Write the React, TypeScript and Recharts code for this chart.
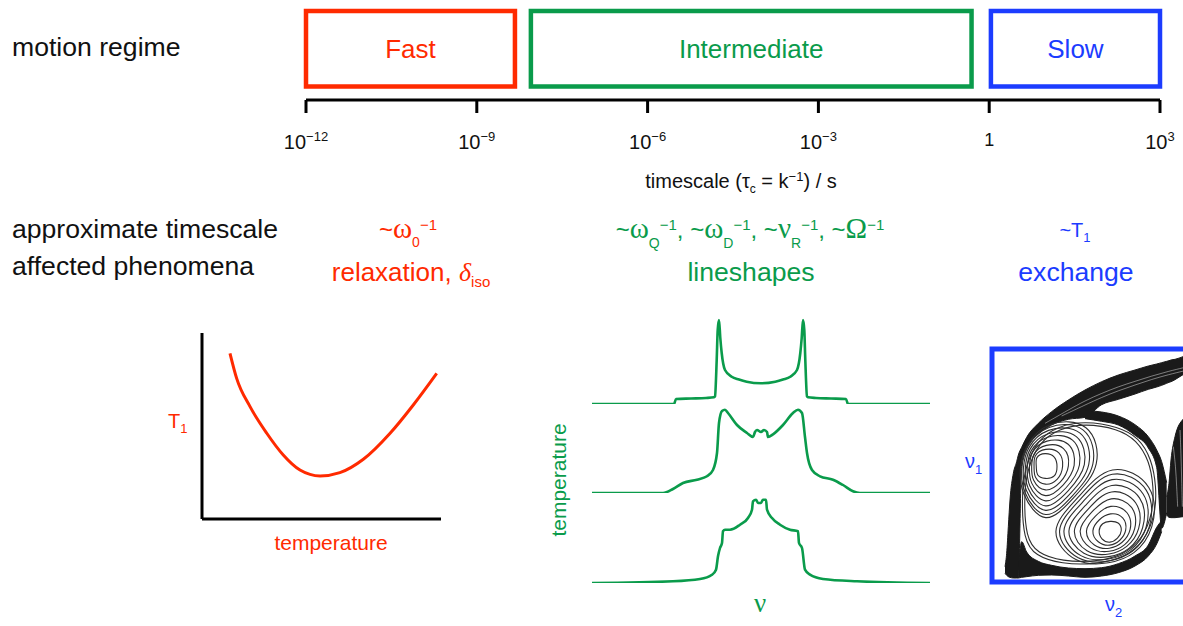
import React from 'react';
import { ComposedChart, LineChart, Line, Area, XAxis, YAxis, ReferenceArea } from 'recharts';

const RED = '#ff2a00';
const GREEN = '#0a9b4b';
const BLUE = '#1c3cff';
const INK = '#111111';
const DARK = '#1a1a1a';
const SANS = '"Liberation Sans", Arial, Helvetica, sans-serif';
const SERIF = '"Liberation Serif", "Times New Roman", Times, serif';

// ---------- timescale axis (log10 of seconds) ----------
const decadeExponents = [-12, -9, -6, -3, 0, 3];
const regimeNames = ['Fast', 'Intermediate', 'Slow'];
const regimeFromExp = [-12, -8.05, 0.03];
const regimeToExp = [-8.33, -0.31, 3];
const regimeColors = [RED, GREEN, BLUE];
const BOX_Y1 = 13.5;
const BOX_Y2 = 89;

// ---------- T1 vs temperature ----------
const t1Temperature = [11.7, 14.5, 20.1, 27.1, 34.0, 41.0, 49.4, 57.7, 67.5, 78.7, 88.4, 98.2];
const t1Values = [89.1, 75.6, 60.4, 46.1, 34.4, 26.3, 23.1, 24.9, 32.1, 46.1, 61.3, 78.3];

// ---------- lineshapes (frequency offset, intensity) ----------
const highTNu = [-169, -87, -85, -70, -55, -47, -46, -44.3, -43.3, -42, -40.7, -39.3, -36, -29.3, -22, -14.3, 0, 14.3, 22, 29.3, 36, 39.3, 40.7, 42, 43.3, 44.3, 46, 47, 55, 70, 85, 87, 169];
const highTI = [0, 0, 5, 5.5, 6, 6.7, 7.6, 44, 74, 84, 66, 51, 34, 27.3, 24.5, 22.3, 20.7, 22.3, 24.5, 27.3, 34, 51, 66, 84, 74, 44, 7.6, 6.7, 6, 5.5, 5, 0, 0];
const midTNu = [-169, -98, -88, -78, -64, -54, -48, -44, -42, -39, -36, -33, -24, -14, -8, -6, -4, 0, 3, 6, 7, 12, 22, 32, 37, 41, 44, 46, 51, 59, 72, 82, 92, 99, 169];
const midTI = [0, 0, 4, 10, 13.3, 16.7, 23, 40, 70, 82, 83.3, 80, 68, 60, 56, 61, 63, 61, 63, 61, 56, 58.7, 68, 80, 83.3, 80, 56, 40, 23, 16.7, 13.3, 8, 1.7, 0, 0];
const lowTNu = [-169, -88, -61, -49, -45, -43, -41, -39, -38, -36, -31, -21, -13, -9, -8, -5, -3, 0, 2, 5, 6, 11, 19, 29, 37, 38, 41, 44, 49, 62, 96, 169];
const lowTI = [0, 1.7, 4, 8.3, 13.3, 26.7, 35, 40, 51.7, 53.3, 53.3, 58.3, 65, 73.3, 81.7, 83.3, 80, 80, 83.3, 83.3, 73.3, 65, 58.3, 53.3, 51.7, 40, 35, 13.3, 8.3, 4, 1.7, 0];

// ---------- 2D exchange map (nu2, nu1 channels) ----------
const bandNu2 = [60, 65, 70, 75, 85, 95, 100, 110, 125, 160, 200, 250, 300, 350, 400, 450, 490, 515, 530, 545, 552, 558, 570, 594, 600];
const streakLo = [680, 640, 560, 480, 400, 365, 345, 322, 292, 250, 215, 180, 150, 125, 105, 90, 78, 72, 68, 64, 62, 60, 58, 50, 48];
const streakHi = [700, 706, 710, 712, 714, 714, 714, 372, 325, 282, 255, 238, 232, 194, 178, 162, 148, 141, 136, 130, 127, 125, 119, 104, 101];
const ringLo = [null, null, null, null, null, null, null, null, null, null, null, null, 212, 216, 228, 254, 290, 330, 365, 428, null, null, null, null, null];
const ringHi = [null, null, null, null, null, null, null, null, null, null, null, null, 236, 244, 255, 286, 324, 382, 565, 518, null, null, null, null, null];
const bottomLo = [null, null, null, null, null, null, 690, 605, 636, 664, 676, 684, 686, 683, 671, 648, 615, 562, 542, null, null, null, null, null, null];
const bottomHi = [null, null, null, null, null, null, 714, 712, 710, 706, 705, 708, 712, 708, 698, 678, 648, 612, 575, null, null, null, null, null, null];
const sideLo = [null, null, null, null, null, null, null, null, null, null, null, null, null, null, null, null, null, null, null, 470, 430, 360, 290, 238, 232];
const sideHi = [null, null, null, null, null, null, null, null, null, null, null, null, null, null, null, null, null, null, null, 525, 532, 533, 533, 530, 530];

const upperLobeContours = [
  [[180, 337], [212, 348], [218, 380], [212, 412], [180, 418], [153, 407], [155, 380], [150, 350]],
  [[180, 323], [228, 332], [237, 380], [221, 421], [180, 440], [146, 414], [148, 380], [145, 345]],
  [[180, 310], [244, 316], [257, 380], [229, 429], [180, 462], [139, 421], [140, 380], [141, 341]],
  [[180, 296], [260, 300], [277, 380], [237, 437], [180, 484], [132, 428], [133, 380], [136, 336]],
  [[180, 283], [275, 285], [295, 380], [245, 445], [180, 504], [125, 435], [126, 380], [132, 332]],
  [[180, 272], [288, 272], [312, 380], [252, 452], [180, 523], [119, 441], [120, 380], [128, 328]],
  [[180, 261], [301, 259], [327, 380], [259, 459], [180, 540], [113, 447], [114, 380], [124, 324]],
  [[180, 251], [312, 248], [341, 380], [265, 465], [180, 556], [108, 452], [109, 380], [121, 321]],
  [[180, 243], [321, 239], [353, 380], [269, 469], [180, 568], [104, 456], [104, 380], [119, 319]],
];
const lowerLobeContours = [
  [[375, 543], [402, 545], [413, 572], [399, 596], [375, 611], [348, 599], [339, 572], [351, 548]],
  [[375, 516], [419, 528], [427, 572], [406, 603], [375, 620], [337, 610], [316, 572], [341, 538]],
  [[375, 489], [435, 512], [441, 572], [413, 610], [375, 629], [325, 622], [293, 572], [330, 527]],
  [[375, 462], [452, 495], [455, 572], [421, 618], [375, 638], [314, 633], [270, 572], [319, 516]],
  [[375, 437], [467, 480], [468, 572], [427, 624], [375, 646], [303, 644], [249, 572], [310, 507]],
  [[375, 414], [482, 465], [480, 572], [434, 631], [375, 654], [294, 653], [229, 572], [301, 498]],
  [[375, 393], [495, 452], [491, 572], [439, 636], [375, 661], [285, 662], [211, 572], [292, 489]],
  [[375, 374], [507, 440], [501, 572], [444, 641], [375, 667], [277, 670], [195, 572], [285, 482]],
  [[375, 358], [516, 431], [509, 572], [449, 646], [375, 672], [270, 677], [182, 572], [279, 476]],
];
const envelopeContours = [
  [[300, 243], [400, 260], [462, 293], [500, 358], [514, 440], [512, 520], [480, 602], [422, 652], [330, 674], [230, 672], [150, 648], [116, 598], [110, 480], [118, 385], [158, 298], [220, 258]],
  [[300, 250], [398, 266], [455, 300], [493, 362], [506, 440], [504, 518], [473, 596], [417, 645], [330, 666], [232, 664], [156, 640], [123, 592], [117, 480], [125, 390], [163, 306], [222, 266]],
];
const streakTexture = [
  [[230, 228], [300, 195], [350, 172], [400, 152], [450, 135], [500, 118], [550, 104], [600, 92]],
  [[180, 250], [250, 210], [300, 182], [350, 160], [400, 140], [450, 124], [500, 108], [550, 94], [600, 82]],
  [[565, 320], [572, 380], [575, 440], [578, 500]],
  [[585, 270], [588, 340], [590, 420], [592, 500]],
];

// ---------- derived rows ----------
const axisRows = decadeExponents.map((e) => ({ e }));
const t1Rows = t1Temperature.map((temp, i) => ({ temp, t1: t1Values[i] }));
const spectra = [
  { nu: highTNu, I: highTI, baseline: 404 },
  { nu: midTNu, I: midTI, baseline: 493 },
  { nu: lowTNu, I: lowTI, baseline: 583 },
];
const pair = (lo: (number | null)[], hi: (number | null)[], i: number) =>
  lo[i] == null || hi[i] == null ? undefined : [lo[i], hi[i]];
const bandRows = bandNu2.map((x, i) => ({
  x,
  streak: pair(streakLo, streakHi, i),
  ring: pair(ringLo, ringHi, i),
  bottom: pair(bottomLo, bottomHi, i),
  side: pair(sideLo, sideHi, i),
}));
const toPts = (loop: number[][]) => loop.map(([x, y]) => ({ x, y }));
const allContours = [...upperLobeContours, ...lowerLobeContours, ...envelopeContours];

function DecadeTick(props: any) {
  const { x, payload } = props;
  const e = payload.value as number;
  if (e === 0) {
    return (
      <text x={x} y={146} textAnchor="middle" fontSize={18} fill={INK}>1</text>
    );
  }
  return (
    <text x={x} y={149} textAnchor="middle" fontSize={20} fill={INK}>
      <tspan>10</tspan>
      <tspan fontSize={13} dy={-8}>{e < 0 ? `\u2212${-e}` : `${e}`}</tspan>
    </text>
  );
}

function TimescaleChart() {
  return (
    <ComposedChart width={1183} height={160} data={axisRows} margin={{ top: 0, right: 23, bottom: 0, left: 306 }}>
      <XAxis
        type="number"
        dataKey="e"
        domain={[-12, 3]}
        ticks={decadeExponents}
        interval={0}
        allowDataOverflow
        tickSize={13}
        height={60}
        axisLine={{ stroke: '#000', strokeWidth: 3 }}
        tickLine={{ stroke: '#000', strokeWidth: 3 }}
        tick={<DecadeTick />}
      />
      <YAxis hide type="number" domain={[0, 100]} allowDataOverflow />
      {regimeNames.map((name, i) => (
        <ReferenceArea
          key={name}
          x1={regimeFromExp[i]}
          x2={regimeToExp[i]}
          y1={BOX_Y1}
          y2={BOX_Y2}
          fill="none"
          fillOpacity={0}
          stroke={regimeColors[i]}
          strokeWidth={4.5}
          ifOverflow="visible"
          label={{ value: name, position: 'center', fill: regimeColors[i], fontSize: 26 }}
        />
      ))}
    </ComposedChart>
  );
}

function T1Chart() {
  return (
    <LineChart width={254} height={201} data={t1Rows} margin={{ top: 5, right: 5, bottom: 0, left: 0 }}>
      <XAxis type="number" dataKey="temp" domain={[0, 100]} height={10} tick={false} tickLine={false} axisLine={{ stroke: '#000', strokeWidth: 3 }} />
      <YAxis type="number" domain={[0, 100]} width={10} tick={false} tickLine={false} axisLine={{ stroke: '#000', strokeWidth: 3 }} />
      <Line dataKey="t1" type="monotone" stroke={RED} strokeWidth={3} dot={false} activeDot={false} isAnimationActive={false} />
    </LineChart>
  );
}

function SpectrumChart({ nu, I }: { nu: number[]; I: number[] }) {
  const rows = nu.map((v, i) => ({ nu: v, I: I[i] }));
  return (
    <LineChart width={338} height={100} data={rows} margin={{ top: 5, right: 0, bottom: 5, left: 0 }}>
      <XAxis hide type="number" dataKey="nu" domain={[-169, 169]} allowDataOverflow />
      <YAxis hide type="number" domain={[0, 90]} allowDataOverflow />
      <Line dataKey="I" type="monotone" stroke={GREEN} strokeWidth={2.6} dot={false} activeDot={false} isAnimationActive={false} />
    </LineChart>
  );
}

function ExchangeChart() {
  return (
    <ComposedChart width={250} height={243} data={bandRows} margin={{ top: 5, right: 5, bottom: 5, left: 5 }}>
      <XAxis hide type="number" dataKey="x" domain={[21, 741]} allowDataOverflow />
      <YAxis hide type="number" reversed domain={[27, 726]} allowDataOverflow />
      {['streak', 'ring', 'bottom', 'side'].map((k) => (
        <Area key={k} dataKey={k} type="monotone" stroke={DARK} strokeWidth={1} fill={DARK} fillOpacity={1} dot={false} activeDot={false} isAnimationActive={false} />
      ))}
      {streakTexture.map((seg, i) => (
        <Line
          key={`t${i}`}
          data={toPts(seg)}
          dataKey="y"
          type="basis"
          stroke="#ffffff"
          strokeOpacity={0.55}
          strokeWidth={0.8}
          dot={false}
          activeDot={false}
          isAnimationActive={false}
        />
      ))}
      {allContours.map((loop, i) => (
        <Line
          key={`c${i}`}
          data={toPts(loop)}
          dataKey="y"
          type="basisClosed"
          stroke="#2e2e2e"
          strokeWidth={1.1}
          dot={false}
          activeDot={false}
          isAnimationActive={false}
        />
      ))}
      <ReferenceArea x1={21} x2={741} y1={27} y2={726} fill="none" fillOpacity={0} stroke={BLUE} strokeWidth={5} ifOverflow="visible" />
    </ComposedChart>
  );
}

function Overlay() {
  return (
    <svg width={1183} height={626} style={{ position: 'absolute', left: 0, top: 0, pointerEvents: 'none' }}>
      <g fontFamily={SANS}>
        <text x={12} y={56} fontSize={26.6} fill={INK}>motion regime</text>
        <text x={12} y={238} fontSize={26.6} fill={INK}>approximate timescale</text>
        <text x={12} y={275} fontSize={26.6} fill={INK}>affected phenomena</text>

        <text x={741} y={188} textAnchor="middle" fontSize={20} fill={INK}>
          timescale (τ
          <tspan fontSize={12} dy={5}>c</tspan>
          <tspan dy={-5}> = k</tspan>
          <tspan fontSize={13} dy={-7}>−1</tspan>
          <tspan dy={7}>) / s</tspan>
        </text>

        <text x={408} y={238} textAnchor="middle" fontSize={24} fill={RED}>
          <tspan>~</tspan>
          <tspan fontFamily={SERIF} fontSize={29}>ω</tspan>
          <tspan fontSize={14} dy={9}>0</tspan>
          <tspan fontSize={15} dy={-17}>−1</tspan>
        </text>
        <text x={411} y={281} textAnchor="middle" fontSize={26} fill={RED}>
          <tspan>relaxation, </tspan>
          <tspan fontFamily={SERIF} fontStyle="italic">δ</tspan>
          <tspan fontSize={15} dy={6}>iso</tspan>
        </text>

        <text x={750} y={238} textAnchor="middle" fontSize={24} fill={GREEN}>
          <tspan>~</tspan>
          <tspan fontFamily={SERIF} fontSize={29}>ω</tspan>
          <tspan fontSize={14} dy={10}>Q</tspan>
          <tspan fontSize={15} dy={-18}>−1</tspan>
          <tspan dy={8}>, ~</tspan>
          <tspan fontFamily={SERIF} fontSize={29}>ω</tspan>
          <tspan fontSize={14} dy={10}>D</tspan>
          <tspan fontSize={15} dy={-18}>−1</tspan>
          <tspan dy={8}>, ~</tspan>
          <tspan fontFamily={SERIF} fontSize={29}>ν</tspan>
          <tspan fontSize={14} dy={10}>R</tspan>
          <tspan fontSize={15} dy={-18}>−1</tspan>
          <tspan dy={8}>, ~</tspan>
          <tspan fontFamily={SERIF} fontSize={29}>Ω</tspan>
          <tspan fontSize={15} dy={-8}>−1</tspan>
        </text>
        <text x={751} y={281} textAnchor="middle" fontSize={26.6} fill={GREEN}>lineshapes</text>

        <text x={1075} y={237} textAnchor="middle" fontSize={20} fill={BLUE}>
          <tspan>~T</tspan>
          <tspan fontSize={13} dy={5}>1</tspan>
        </text>
        <text x={1076} y={281} textAnchor="middle" fontSize={26.6} fill={BLUE}>exchange</text>

        <text x={168} y={428} fontSize={20} fill={RED}>
          <tspan>T</tspan>
          <tspan fontSize={13} dy={5}>1</tspan>
        </text>
        <text x={331} y={550} textAnchor="middle" fontSize={21} fill={RED}>temperature</text>

        <text transform="translate(566,480) rotate(-90)" textAnchor="middle" fontSize={21} fill={GREEN}>temperature</text>
        <text x={760} y={612} textAnchor="middle" fontSize={27} fontFamily={SERIF} fill={GREEN}>ν</text>

        <text x={965} y={468} fontSize={20} fill={BLUE}>
          <tspan>ν</tspan>
          <tspan fontSize={13} dy={6}>1</tspan>
        </text>
        <text x={1105} y={611} fontSize={20} fill={BLUE}>
          <tspan>ν</tspan>
          <tspan fontSize={13} dy={6}>2</tspan>
        </text>
      </g>
    </svg>
  );
}

export default function App() {
  return (
    <div
      style={{
        position: 'absolute',
        left: 0,
        top: 0,
        width: 1183,
        height: 626,
        overflow: 'hidden',
        background: '#ffffff',
        fontFamily: SANS,
      }}
    >
      <div style={{ position: 'absolute', left: 0, top: 0 }}>
        <TimescaleChart />
      </div>
      <div style={{ position: 'absolute', left: 192, top: 328 }}>
        <T1Chart />
      </div>
      {spectra.map((s, i) => (
        <div key={i} style={{ position: 'absolute', left: 592, top: s.baseline - 95 }}>
          <SpectrumChart nu={s.nu} I={s.I} />
        </div>
      ))}
      <div style={{ position: 'absolute', left: 987, top: 344 }}>
        <ExchangeChart />
      </div>
      <Overlay />
    </div>
  );
}
